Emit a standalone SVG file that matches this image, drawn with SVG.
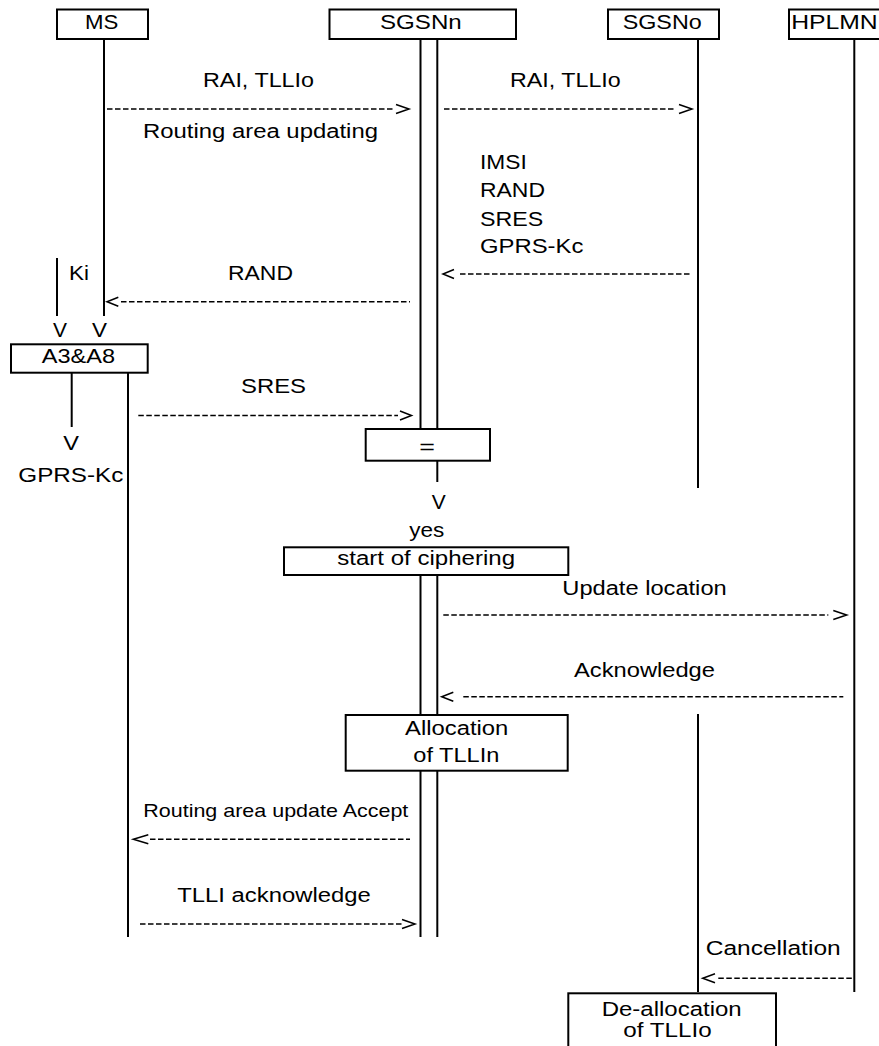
<svg xmlns="http://www.w3.org/2000/svg" width="879" height="1046" viewBox="0 0 879 1046">
<style>
.t{font-family:"Liberation Sans",Arial,sans-serif;font-size:19.5px;fill:#000}
.s{font-size:18.5px}
.box{fill:#fff;stroke:#000;stroke-width:2}
.ll{stroke:#000;stroke-width:2;fill:none}
.d{stroke:#000;stroke-width:1.6;stroke-dasharray:5.5 2.5;fill:none}
.h{stroke:#000;stroke-width:1.5;fill:none}
</style>
<rect width="879" height="1046" fill="#fff"/>
<g id="lifelines">
<line class="ll" x1="104" y1="39" x2="104" y2="316"/>
<line class="ll" x1="57" y1="258" x2="57" y2="316"/>
<line class="ll" x1="71.7" y1="373" x2="71.7" y2="427"/>
<line class="ll" x1="128" y1="373" x2="128" y2="937"/>
<line class="ll" x1="420.5" y1="39" x2="420.5" y2="429"/>
<line class="ll" x1="437.3" y1="39" x2="437.3" y2="429"/>
<line class="ll" x1="437.3" y1="461" x2="437.3" y2="482"/>
<line class="ll" x1="420.5" y1="575" x2="420.5" y2="715"/>
<line class="ll" x1="437.3" y1="575" x2="437.3" y2="715"/>
<line class="ll" x1="420.5" y1="771" x2="420.5" y2="937"/>
<line class="ll" x1="437.3" y1="771" x2="437.3" y2="937"/>
<line class="ll" x1="698" y1="39" x2="698" y2="488"/>
<line class="ll" x1="698" y1="714" x2="698" y2="992"/>
<line class="ll" x1="854.3" y1="39" x2="854.3" y2="992"/>
</g>
<g id="node-MS"><rect class="box" x="57" y="9.5" width="91" height="29.5"/><text class="t" x="85" y="28.5" textLength="33.3" lengthAdjust="spacingAndGlyphs">MS</text></g>
<g id="node-SGSNn"><rect class="box" x="329.5" y="9.5" width="186.5" height="29.5"/><text class="t" x="380" y="28.5" textLength="81.7" lengthAdjust="spacingAndGlyphs">SGSNn</text></g>
<g id="node-SGSNo"><rect class="box" x="608" y="9.5" width="111" height="29.5"/><text class="t" x="622.7" y="28.5" textLength="79" lengthAdjust="spacingAndGlyphs">SGSNo</text></g>
<g id="node-HPLMN"><rect class="box" x="789" y="9.5" width="100" height="29.5"/><text class="t" x="791.2" y="28.5" textLength="86.5" lengthAdjust="spacingAndGlyphs">HPLMN</text></g>
<g id="node-A3A8"><rect class="box" x="11" y="344.3" width="136.7" height="28.4"/><text class="t" x="41.7" y="363.3" textLength="73.3" lengthAdjust="spacingAndGlyphs">A3&amp;A8</text></g>
<g id="node-eq"><rect class="box" x="365.7" y="429" width="124.3" height="31.7"/><text class="t" x="419.3" y="453.5" textLength="15.7" lengthAdjust="spacingAndGlyphs">=</text></g>
<g id="node-ciphering"><rect class="box" x="284" y="547.3" width="284.3" height="27.7"/><text class="t" x="337.3" y="565" textLength="177.7" lengthAdjust="spacingAndGlyphs">start of ciphering</text></g>
<g id="node-allocation"><rect class="box" x="345.7" y="715" width="222" height="55.7"/><text class="t" x="405" y="735" textLength="103.3" lengthAdjust="spacingAndGlyphs">Allocation</text><text class="t" x="413.3" y="761.7" textLength="86" lengthAdjust="spacingAndGlyphs">of TLLIn</text></g>
<g id="node-deallocation"><rect class="box" x="568.3" y="993.3" width="207.7" height="60"/><text class="t" x="601.7" y="1016" textLength="140" lengthAdjust="spacingAndGlyphs">De-allocation</text><text class="t" x="623.3" y="1036.7" textLength="88.4" lengthAdjust="spacingAndGlyphs">of TLLIo</text></g>
<g id="labels">
<text class="t" x="203" y="87" textLength="111" lengthAdjust="spacingAndGlyphs">RAI, TLLIo</text>
<text class="t" x="143" y="138" textLength="235" lengthAdjust="spacingAndGlyphs">Routing area updating</text>
<text class="t" x="510" y="87" textLength="110.7" lengthAdjust="spacingAndGlyphs">RAI, TLLIo</text>
<text class="t" x="480" y="169" textLength="46.7" lengthAdjust="spacingAndGlyphs">IMSI</text>
<text class="t" x="480" y="197.3" textLength="65" lengthAdjust="spacingAndGlyphs">RAND</text>
<text class="t" x="480" y="225.7" textLength="63.3" lengthAdjust="spacingAndGlyphs">SRES</text>
<text class="t" x="480" y="253.3" textLength="103.3" lengthAdjust="spacingAndGlyphs">GPRS-Kc</text>
<text class="t" x="69" y="280" textLength="20" lengthAdjust="spacingAndGlyphs">Ki</text>
<text class="t" x="228" y="280" textLength="65" lengthAdjust="spacingAndGlyphs">RAND</text>
<text class="t" x="53" y="336.7" textLength="14" lengthAdjust="spacingAndGlyphs">V</text>
<text class="t" x="92" y="336.7" textLength="15" lengthAdjust="spacingAndGlyphs">V</text>
<text class="t" x="241" y="393.3" textLength="65" lengthAdjust="spacingAndGlyphs">SRES</text>
<text class="t" x="63.3" y="450" textLength="15.7" lengthAdjust="spacingAndGlyphs">V</text>
<text class="t" x="18.3" y="481.7" textLength="105" lengthAdjust="spacingAndGlyphs">GPRS-Kc</text>
<text class="t" x="431.7" y="509.3" textLength="14" lengthAdjust="spacingAndGlyphs">V</text>
<text class="t" x="409.3" y="536.7" textLength="35" lengthAdjust="spacingAndGlyphs">yes</text>
<text class="t" x="562.3" y="595" textLength="164.4" lengthAdjust="spacingAndGlyphs">Update location</text>
<text class="t" x="574" y="676.7" textLength="141" lengthAdjust="spacingAndGlyphs">Acknowledge</text>
<text class="t s" x="143.3" y="816.7" textLength="265" lengthAdjust="spacingAndGlyphs">Routing area update Accept</text>
<text class="t" x="177.3" y="901.7" textLength="193.4" lengthAdjust="spacingAndGlyphs">TLLI acknowledge</text>
<text class="t" x="705.7" y="955" textLength="135" lengthAdjust="spacingAndGlyphs">Cancellation</text>
</g>
<g id="connectors">
<line class="d" x1="107" y1="109" x2="395" y2="109"/><polyline class="h" points="396,104.5 409,109 396,113.5"/>
<line class="d" x1="444" y1="109" x2="675" y2="109"/><polyline class="h" points="679,104.5 692,109 679,113.5"/>
<line class="d" x1="460" y1="274" x2="690" y2="274"/><polyline class="h" points="454,269.5 443,274 454,278.5"/>
<line class="d" x1="121" y1="301.7" x2="410" y2="301.7"/><polyline class="h" points="118.3,297.2 107,301.7 118.3,306.2"/>
<line class="d" x1="138.3" y1="415.5" x2="398" y2="415.5"/><polyline class="h" points="400,411 411.5,415.5 400,420"/>
<line class="d" x1="443.3" y1="615" x2="828.3" y2="615"/><polyline class="h" points="833.3,610.5 846.7,615 833.3,619.5"/>
<line class="d" x1="463.3" y1="696.7" x2="843.3" y2="696.7"/><polyline class="h" points="453.3,692.2 441.7,696.7 453.3,701.2"/>
<line class="d" x1="150" y1="839.3" x2="410" y2="839.3"/><polyline class="h" points="148.3,834.8 133.3,839.3 148.3,843.8"/>
<line class="d" x1="140" y1="924" x2="401.7" y2="924"/><polyline class="h" points="402,919.5 415,924 402,928.5"/>
<line class="d" x1="718.3" y1="978.3" x2="853.3" y2="978.3"/><polyline class="h" points="715,973.8 702.7,978.3 715,982.8"/>
</g>
</svg>
